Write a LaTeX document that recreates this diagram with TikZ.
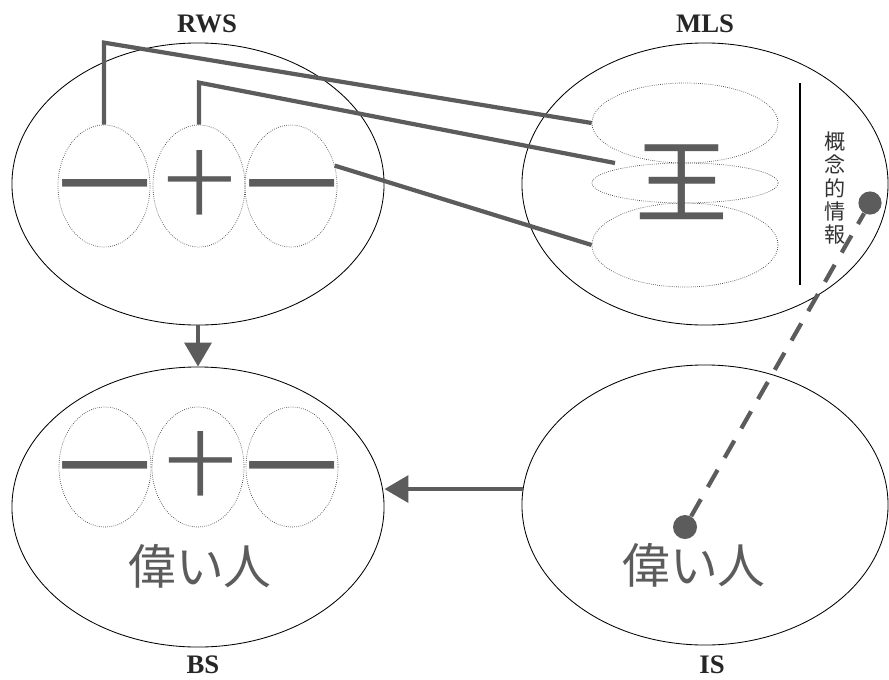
\documentclass[tikz,border=0pt]{standalone}
\usepackage{fontspec}
\setmainfont{Liberation Serif}
\newfontfamily\jp{Noto Sans CJK JP}
\usetikzlibrary{shapes.geometric,arrows.meta,positioning}
\definecolor{ink}{gray}{0.36}

\begin{document}
\begin{tikzpicture}[x=0.025cm, y=-0.025cm,
    space/.style={ellipse, draw, line width=0.6pt, inner sep=0pt},
    part/.style={ellipse, draw=black!75, densely dotted, line width=0.5pt, inner sep=0pt, minimum width=2.3cm, minimum height=3.05cm},
    layer/.style={ellipse, draw=black!75, densely dotted, line width=0.5pt, inner sep=0pt, minimum width=4.65cm},
    lbl/.style={font=\bfseries\fontsize{19}{22}\selectfont, text=black!85},
    glyph/.style={inner sep=0pt, text=ink},
    word/.style={inner sep=0pt, text=ink, font=\jp\fontsize{34}{36}\selectfont},
    conn/.style={draw=ink, line width=3pt},
    arr/.style={draw=ink, line width=3pt, -{Triangle[length=17pt, width=19pt]}},
    dot/.style={circle, fill=ink, inner sep=0pt, minimum size=0.6cm}]
    \useasboundingbox (0,0) rectangle (889,679);

    % Spaces
    \node (rws) [space, minimum width=9.3cm, minimum height=7.05cm] at (198,184) {};
    \node (mls) [space, minimum width=9.15cm, minimum height=7.05cm] at (705,184) {};
    \node (bs) [space, minimum width=9.3cm, minimum height=7.0cm] at (198,507) {};
    \node (is) [space, minimum width=9.15cm, minimum height=7.0cm] at (705,505) {};

    % Labels
    \node (rwsLabel) [lbl] at (207,24) {RWS};
    \node (mlsLabel) [lbl] at (705,24) {MLS};
    \node (bsLabel) [lbl] at (203,665) {BS};
    \node (isLabel) [lbl] at (712,665) {IS};

    % Parts in RWS
    \node (rwsLeft) [part] at (104,186) {};
    \node (rwsMid) [part] at (199,186) {};
    \node (rwsRight) [part] at (291,186) {};
    \node (rwsOneA) [glyph, font=\jp\fontsize{66}{66}\selectfont] at (105,199) {一};
    \node (rwsTen) [glyph, font=\jp\fontsize{50}{50}\selectfont] at (200,183) {十};
    \node (rwsOneB) [glyph, font=\jp\fontsize{66}{66}\selectfont] at (292,199) {一};

    % Parts in BS
    \node (bsLeft) [part, minimum height=3.0cm] at (105,467) {};
    \node (bsMid) [part, minimum height=3.0cm] at (198,467) {};
    \node (bsRight) [part, minimum height=3.0cm] at (292,467) {};
    \node (bsOneA) [glyph, font=\jp\fontsize{66}{66}\selectfont] at (105,481) {一};
    \node (bsTen) [glyph, font=\jp\fontsize{50}{50}\selectfont] at (201,464) {十};
    \node (bsOneB) [glyph, font=\jp\fontsize{66}{66}\selectfont] at (292,481) {一};
    \node (bsWord) [word] at (200,566) {偉い人};

    % Layers in MLS
    \node (mlsTop) [layer, minimum height=2.0cm] at (685,123) {};
    \node (mlsMid) [layer, minimum height=1.0cm] at (685,183) {};
    \node (mlsBot) [layer, minimum height=2.1cm] at (685,245) {};
    \node (king) [glyph, font=\jp\fontsize{66}{66}\selectfont] at (682,182) {王};
    \node (concept) [glyph, text=black!80, align=center, font=\jp\fontsize{15}{16.5}\selectfont] at (835,188) {概\\念\\的\\情\\報};
    \draw[line width=0.8pt] (800,83) -- (800,285);
    \node (mlsDot) [dot, minimum size=0.58cm] at (870,203) {};
    \coordinate (stem) at (858,224);
    \coordinate (kingLeft) at (615,163);

    % IS
    \node (isWord) [word] at (694,565) {偉い人};
    \node (isDot) [dot] at (685,527) {};

    % Connectors
    \draw[conn] (rwsLeft.north) -- +(0,-82) -- (mlsTop.west);
    \draw[conn] (rwsMid.north) -- +(0,-42) -- (kingLeft);
    \draw[conn] (rwsRight.25) -- (mlsBot.west);
    \draw[conn, dash pattern=on 14pt off 10pt] (isDot) -- (stem);
    \draw[conn] (stem) -- (mlsDot);

    % Arrows
    \draw[arr] (rws.south) -- (bs.north);
    \draw[arr] (is.175) -- (is.175 -| bs.east);
\end{tikzpicture}
\end{document}
